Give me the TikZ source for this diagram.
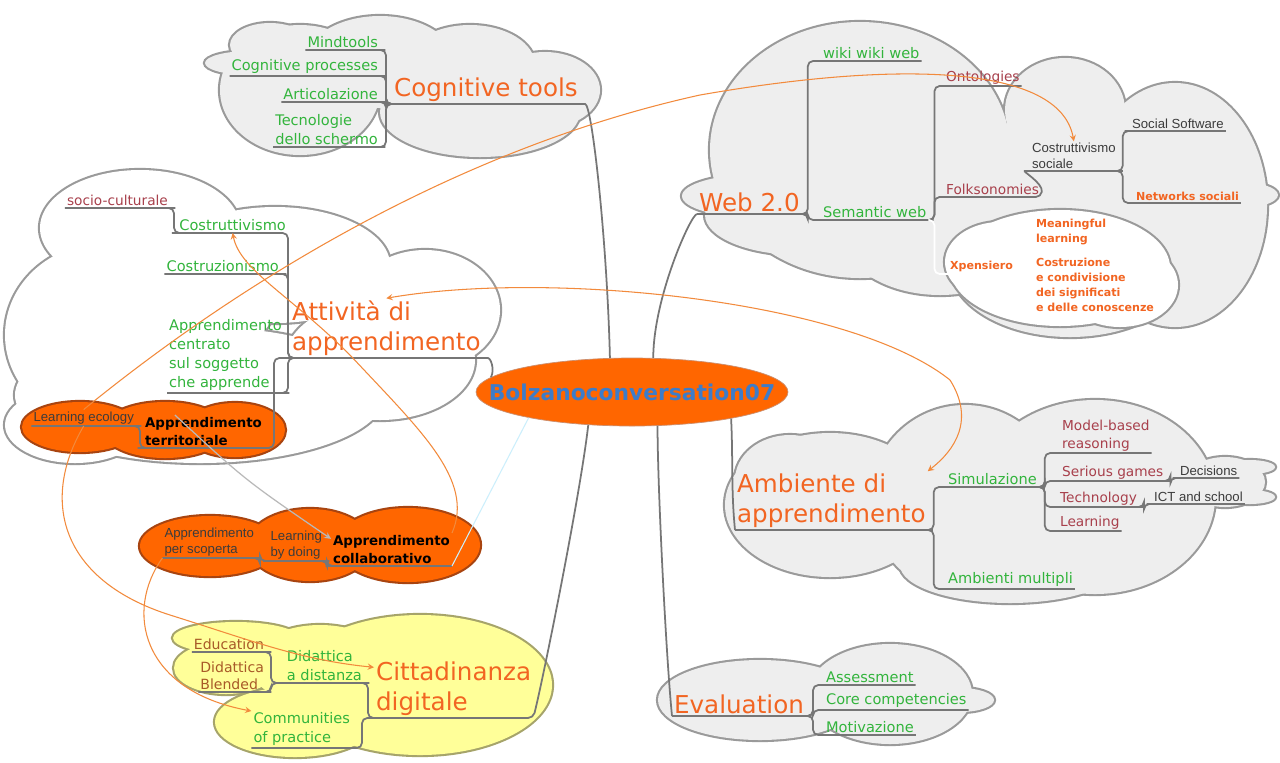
\documentclass[tikz,border=0pt]{standalone}
\usepackage{fontspec}
\setmainfont{DejaVu Sans}
\newfontfamily\notefont{Liberation Sans}
\usetikzlibrary{shapes.geometric, arrows}

\definecolor{mmorange}{HTML}{F26522}
\definecolor{mmgreen}{HTML}{32B43C}
\definecolor{mmmaroon}{HTML}{A8404C}
\definecolor{mmbrown}{HTML}{A85A28}
\definecolor{mmblue}{HTML}{3D7CC9}
\definecolor{notegrey}{HTML}{3C3C3C}
\definecolor{cloudfill}{HTML}{EEEEEE}
\definecolor{cloudedge}{HTML}{9A9A9A}
\definecolor{branchgrey}{HTML}{767676}
\definecolor{hotfill}{HTML}{FF6600}
\definecolor{hotedge}{HTML}{A84410}
\definecolor{yelfill}{HTML}{FFFF99}
\definecolor{yeledge}{HTML}{A6A46A}
\definecolor{linkorange}{HTML}{F28A3C}

\tikzstyle{topic} = [anchor=south west, inner sep=1pt, align=left, text=mmorange, font=\fontsize{14}{17.5}\selectfont]
\tikzstyle{leaf} = [anchor=south west, inner sep=1pt, align=left, text=mmgreen, font=\fontsize{8.3}{10.8}\selectfont]
\tikzstyle{subleaf} = [anchor=south west, inner sep=1pt, align=left, text=mmmaroon, font=\fontsize{7.8}{10}\selectfont]
\tikzstyle{brownleaf} = [anchor=south west, inner sep=1pt, align=left, text=mmbrown, font=\fontsize{8}{9.6}\selectfont]
\tikzstyle{note} = [anchor=south west, inner sep=1pt, align=left, text=notegrey, font=\notefont\fontsize{7.5}{9}\selectfont]
\tikzstyle{warm} = [anchor=south west, inner sep=1pt, align=left, text=mmorange, font=\bfseries\fontsize{6.3}{8.5}\selectfont]
\tikzstyle{hot} = [anchor=south west, inner sep=1pt, align=left, text=black, font=\bfseries\fontsize{7.6}{10.5}\selectfont]
\tikzstyle{rootnode} = [ellipse, fill=hotfill, draw=hotedge!60, minimum width=6.24cm, minimum height=1.36cm, inner sep=0pt]
\tikzstyle{roottext} = [text=mmblue, font=\bfseries\fontsize{12.4}{14}\selectfont]
\tikzstyle{branch} = [draw=branchgrey, line width=1pt, rounded corners=3pt]
\tikzstyle{link} = [draw=linkorange, line width=0.6pt, ->, >=stealth]
\tikzstyle{greylink} = [draw=gray!55, line width=0.7pt, ->, >=stealth]
\tikzstyle{faint} = [draw=cyan!20, line width=0.6pt]
\tikzstyle{cloudrim} = [line width=2.4pt]

% a cloud is a bunch of ellipses: thick rims first, then the fills on top
\newcommand{\mmcloud}[3]{%
  \foreach \cx/\cy/\rx/\ry in {#1} {\draw[cloudrim, draw=#2] (\cx,\cy) ellipse [x radius=\rx, y radius=\ry];}
  \foreach \cx/\cy/\rx/\ry in {#1} {\fill[#3] (\cx,\cy) ellipse [x radius=\rx, y radius=\ry];}}

\begin{document}
\begin{tikzpicture}[x=0.02cm, y=-0.02cm]
\fill[white] (0,0) rectangle (1280,762);
\useasboundingbox (0,0) rectangle (1280,762);

% clouds
\mmcloud{140/228/100/58, 275/265/115/58, 425/310/75/60, 105/335/100/92, 215/305/60/45, 200/395/185/68, 75/425/70/38, 380/360/95/60}{cloudedge}{white}
\mmcloud{80/427/58/25, 165/430/62/28, 235/430/50/27}{hotedge}{hotfill}
\mmcloud{210/546/70/30, 310/545/62/36, 408/545/72/37}{hotedge}{hotfill}
\mmcloud{420/685/132/70, 236/638/63/16, 226/668/52/26, 295/722/80/35, 320/665/70/40}{yeledge}{yelfill}
\mmcloud{300/90/80/65, 380/62/75/46, 470/65/65/40, 480/112/100/45, 545/90/55/38, 250/63/45/12, 270/45/40/22}{cloudedge}{cloudfill}
\mmcloud{860/150/150/128, 760/196/78/22, 1065/110/60/52, 1030/170/60/50, 1100/165/45/40, 1175/205/92/122, 1232/195/46/14, 1070/265/120/72, 940/230/100/65, 800/215/95/40}{cloudedge}{cloudfill}
\mmcloud{1060/268/110/58, 1000/262/55/40, 1120/285/58/42}{cloudedge}{white}
\mmcloud{830/505/105/72, 965/500/95/95, 1095/497/120/97, 1225/482/40/25, 1250/467/25/7, 1250/497/25/7, 1010/565/110/38, 790/480/55/45}{cloudedge}{cloudfill}
\mmcloud{760/700/102/40, 890/694/82/50, 960/700/34/12}{cloudedge}{cloudfill}

% centre
\node (root) [rootnode] at (632,392) {};
\node (rootlabel) [roottext] at (root.center) {Bolzanoconversation07};

% Cognitive tools
\node (ct) [topic] at (392,104) {Cognitive tools};
\node (mind) [leaf, anchor=south east] at (380,50) {Mindtools};
\node (cogp) [leaf, anchor=south east] at (380,76) {Cognitive processes};
\node (artic) [leaf, anchor=south east] at (380,102) {Articolazione};
\node (tecsch) [leaf, anchor=south east] at (380,147) {Tecnologie\\dello schermo};

% Web 2.0
\node (web) [topic] at (697,214) {Web 2.0};
\node (wiki) [leaf] at (821,61) {wiki wiki web};
\node (semweb) [leaf] at (821,220) {Semantic web};
\node (onto) [subleaf] at (944,86) {Ontologies};
\node (folk) [subleaf] at (944,197) {Folksonomies};
\node (cossoc) [note] at (1030,171) {Costruttivismo\\sociale};
\node (socsw) [note] at (1130,131) {Social Software};
\node (netsoc) [warm] at (1134,203) {Networks sociali};
\node (xpens) [warm] at (948,274) {Xpensiero};
\node (meanl) [warm] at (1034,247) {Meaningful\\learning};
\node (costcond) [warm] at (1034,314) {Costruzione\\e condivisione\\dei significati\\e delle conoscenze};

% Attivita di apprendimento
\node (attiv) [topic] at (290,358) {Attività di\\apprendimento};
\node (costv) [leaf, anchor=south east] at (288,233) {Costruttivismo};
\node (socio) [subleaf, anchor=south east] at (170,208) {socio-culturale};
\node (costz) [leaf, anchor=south east] at (281,274) {Costruzionismo};
\node (centr) [leaf, anchor=south east] at (284,393) {Apprendimento\\centrato\\sul soggetto\\che apprende};
\node (terr) [hot] at (143,448) {Apprendimento\\territoriale};
\node (leco) [note, anchor=south east] at (136,426) {Learning ecology};

% Apprendimento collaborativo
\node (collab) [hot] at (331,566) {Apprendimento\\collaborativo};
\node (lbdoing) [note, anchor=south east] at (324,561) {Learning\\by doing};
\node (aperscop) [note, anchor=south east] at (256,558) {Apprendimento\\per scoperta};

% Cittadinanza digitale
\node (citt) [topic] at (374,718) {Cittadinanza\\digitale};
\node (dadist) [leaf, anchor=south east] at (364,683) {Didattica\\a distanza};
\node (educ) [brownleaf, anchor=south east] at (266,652) {Education};
\node (dblend) [brownleaf, anchor=south east] at (266,692) {Didattica\\Blended};
\node (commun) [leaf, anchor=south east] at (352,748) {Communities\\of practice};

% Ambiente di apprendimento
\node (ambap) [topic] at (735,530) {Ambiente di\\apprendimento};
\node (simul) [leaf] at (946,487) {Simulazione};
\node (ambmul) [leaf] at (946,589) {Ambienti multipli};
\node (mbreas) [subleaf] at (1060,453) {Model-based\\reasoning};
\node (sergam) [subleaf] at (1060,481) {Serious games};
\node (techn) [subleaf] at (1058,507) {Technology};
\node (learng) [subleaf] at (1058,531) {Learning};
\node (decis) [note] at (1178,478) {Decisions};
\node (ictsch) [note] at (1152,504) {ICT and school};

% Evaluation
\node (evalu) [topic] at (672,716) {Evaluation};
\node (assess) [leaf] at (824,685) {Assessment};
\node (corec) [leaf] at (824,710) {Core competencies};
\node (motiv) [leaf] at (824,735) {Motivazione};

% branches
\draw[branch] (mind.south west) -- (mind.south east) -- ++(6,0) |- (ct.south west) -- (ct.south east) .. controls +(12,0) and +(-3,-120) .. (root.123);
\draw[branch] (cogp.south west) -- (cogp.south east) -- ++(6,0) |- (ct.south west);
\draw[branch] (artic.south west) -- (artic.south east) -- ++(6,0) |- (ct.south west);
\draw[branch] (tecsch.south west) -- (tecsch.south east) -- ++(6,0) |- (ct.south west);

\draw[branch] (web.south west) -- (web.south east) -- ++(6,0) |- (wiki.south west) -- (wiki.south east);
\draw[branch] (web.south east) -- ++(6,0) |- (semweb.south west) -- (semweb.south east) -- ++(6,0) |- (onto.south west) -- (onto.south east);
\draw[branch] (semweb.south east) -- ++(6,0) |- (folk.south west) -- (folk.south east) .. controls +(2,-14) and +(-8,0) .. (cossoc.south west) -- (cossoc.south east) -- ++(5,0) |- (socsw.south west) -- (socsw.south east);
\draw[branch] (cossoc.south east) -- ++(5,0) |- (netsoc.south west) -- (netsoc.south east);
\draw[branch, draw=white] (semweb.south east) -- ++(6,0) |- (xpens.south west);
\draw[branch] (web.south west) .. controls +(-6,0) and +(0,-60) .. (root.58);

\draw[branch] (socio.south west) -- (socio.south east) -- ++(4,0) |- (costv.south west) -- (costv.south east) |- (attiv.south west) -- (attiv.south east) .. controls +(8,0) and +(4,-8) .. (root.174);
\draw[branch] (costz.south west) -- (costz.south east) -- ++(7,0) |- (attiv.south west);
\draw[branch] (centr.south west) -- (centr.south east) -- ++(4,0) |- (attiv.south west);
\draw[branch] (leco.south west) -- (leco.south east) -- ++(4,0) |- (terr.south west) -- (terr.south east) -- ++(10,0) |- (attiv.south west);

\draw[branch] (aperscop.south west) -- (aperscop.south east) -- ++(4,0) |- (lbdoing.south west) -- (lbdoing.south east) -- ++(3,0) |- (collab.south west) -- (collab.south east);
\draw[faint] (collab.south east) -- (root.-166);

\draw[branch] (educ.south west) -- (educ.south east) -- ++(5,0) |- (dadist.south west) -- (dadist.south east) -- ++(4,0) |- (citt.south west) -- (citt.south east) .. controls +(10,-40) and +(-8,70) .. (root.-143);
\draw[branch] (dblend.south west) -- (dblend.south east) -- ++(5,0) |- (dadist.south west);
\draw[branch] (commun.south west) -- (commun.south east) -- ++(10,0) |- (citt.south west);

\draw[branch] (ambap.south west) -- (ambap.south east) -- ++(6,0) |- (simul.south west) -- (simul.south east) -- ++(6,0) |- (mbreas.south west) -- (mbreas.south east);
\draw[branch] (ambap.south east) -- ++(6,0) |- (ambmul.south west) -- (ambmul.south east);
\draw[branch] (simul.south east) -- ++(6,0) |- (sergam.south west) -- (sergam.south east) -- ++(5,0) |- (decis.south west) -- (decis.south east);
\draw[branch] (simul.south east) -- ++(6,0) |- (techn.south west) -- (techn.south east) -- ++(5,0) |- (ictsch.south west) -- (ictsch.south east);
\draw[branch] (simul.south east) -- ++(6,0) |- (learng.south west) -- (learng.south east);
\draw[branch] (ambap.south west) .. controls +(-4,-40) and +(2,40) .. (root.-15);

\draw[branch] (evalu.south west) -- (evalu.south east) -- ++(7,0) |- (assess.south west) -- (assess.south east);
\draw[branch] (evalu.south east) -- ++(7,0) |- (corec.south west) -- (corec.south east);
\draw[branch] (evalu.south east) -- ++(7,0) |- (motiv.south west) -- (motiv.south east);
\draw[branch] (evalu.south west) .. controls +(-6,-60) and +(0,60) .. (root.-53);

% cross links
\draw[link] (leco.north) .. controls (230,290) and (450,150) .. (700,95) .. controls (900,60) and (1060,65) .. (cossoc.north);
\draw[link, <->] (attiv.north) .. controls (550,270) and (850,300) .. (950,380) .. controls (975,420) and (955,450) .. (ambap.north east);
\draw[link] (collab.north east) .. controls (475,480) and (420,430) .. (350,355) .. controls (290,295) and (240,270) .. (costv.south);
\draw[link] (leco.south) .. controls (40,500) and (60,580) .. (170,615) .. controls (250,640) and (300,660) .. (citt.165);
\draw[link] (aperscop.south west) .. controls (125,610) and (140,690) .. (commun.160);
\draw[greylink] (terr.150) .. controls (245,480) .. (collab.170);
\end{tikzpicture}
\end{document}
